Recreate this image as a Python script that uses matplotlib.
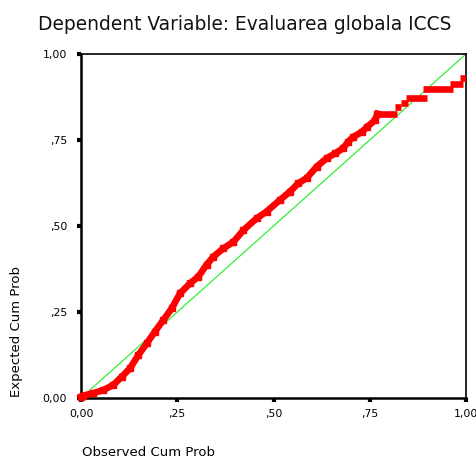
import matplotlib
matplotlib.use('Agg')
import matplotlib.pyplot as plt

# P-P plot values (observed, expected cum prob)
observed = [0.0, 0.006, 0.032, 0.058, 0.084, 0.106, 0.127, 0.149, 0.171, 0.192,
            0.214, 0.236, 0.257, 0.283, 0.305, 0.326, 0.344, 0.370, 0.396, 0.422,
            0.456, 0.482, 0.517, 0.543, 0.564, 0.586, 0.612, 0.638, 0.660, 0.681,
            0.694, 0.707, 0.729, 0.743, 0.764, 0.770]
expected = [0.004, 0.007, 0.014, 0.023, 0.038, 0.062, 0.086, 0.125, 0.159, 0.193,
            0.227, 0.261, 0.304, 0.333, 0.353, 0.387, 0.411, 0.435, 0.454, 0.488,
            0.522, 0.542, 0.576, 0.600, 0.624, 0.639, 0.672, 0.697, 0.711, 0.726,
            0.745, 0.759, 0.773, 0.788, 0.808, 0.826]

# flat runs of tied values in the upper tail
plateau_y = [0.826, 0.847, 0.858, 0.871, 0.897, 0.913, 0.930]
plateau_x0 = [0.770, 0.816, 0.830, 0.844, 0.888, 0.958, 0.985]
plateau_x1 = [0.821, 0.830, 0.850, 0.899, 0.966, 0.992, 1.005]

ticks = [0.0, 0.25, 0.5, 0.75, 1.0]
tick_labels = ['0,00', ',25', ',50', ',75', '1,00']

fig = plt.figure(figsize=(4.76, 4.57), dpi=100)
ax = fig.add_axes([81/476, 59/457, 385/476, 344/457])

ax.plot([0, 1], [0, 1], color='#33ee33', linewidth=0.9, zorder=2)
ax.plot(observed, expected, color='red', linewidth=4.8, marker='s', markersize=4,
        solid_joinstyle='miter', zorder=3, clip_on=False)
ax.hlines(plateau_y, plateau_x0, plateau_x1, color='red', linewidth=4.8, zorder=3)

ax.set_xlim(0, 1)
ax.set_ylim(0, 1)
ax.set_xticks(ticks)
ax.set_xticklabels(tick_labels, fontsize=7.8)
ax.set_yticks(ticks)
ax.set_yticklabels(tick_labels, fontsize=7.8)
ax.tick_params(direction='out', length=3, width=3, color='black')
ax.tick_params(axis='x', pad=5)
ax.tick_params(axis='y', pad=7)

for side in ['left', 'bottom']:
    ax.spines[side].set_linewidth(1.8)
for side in ['top', 'right']:
    ax.spines[side].set_linewidth(1.2)

fig.text(245/476, 1 - 25/457, 'Dependent Variable: Evaluarea globala ICCS',
         fontsize=13.4, ha='center', va='center', color='#111111')
fig.text(82/476, 1 - 452/457, 'Observed Cum Prob', fontsize=9.5,
         ha='left', va='center')
fig.text(17/476, 1 - 397/457, 'Expected Cum Prob', fontsize=9.5,
         rotation=90, ha='center', va='bottom')

fig.savefig('out.png', dpi=100)
